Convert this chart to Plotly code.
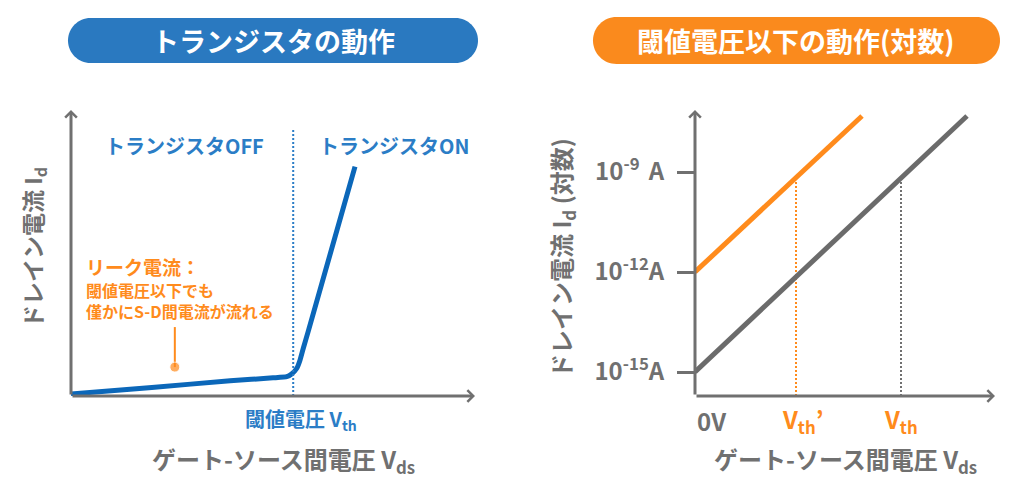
import plotly.graph_objects as go

W, H = 1024, 495
FONT = "Noto Sans CJK JP"

# ---------------- data ----------------
# left panel (linear, arbitrary units)
left_vds = [0.0, 2.0, 3.94, 5.0, 5.34, 5.46, 5.59, 5.67, 5.75, 5.87, 7.03]
left_id = [0.07, 0.30, 0.53, 0.635, 0.675, 0.77, 0.97, 1.26, 1.67, 2.25, 8.02]
vth_left = 5.5
vth_left_top = 9.3
leak_x = 2.57
leak_y = [2.41, 1.01]

# right panel (log scale)
orange_vgs = [0.0, 1.67]
orange_id = [1e-12, 4.8e-8]
gray_vgs = [0.0, 2.72]
gray_id = [1e-15, 4.8e-8]
vth_prime = 1.01
vth = 2.06
id_at_vth = 6.7e-10
ytick_vals = [1e-15, 1e-12, 1e-9]
ytick_text = ["10<sup>-15</sup>A", "10<sup>-12</sup>A", "10<sup>-9 </sup> A"]

# colors
BLUE = "#0b67b9"
BLUE_T = "#2b7dc6"
BLUE_PILL = "#2a79c0"
ORANGE = "#ff8b1c"
ORANGE_PILL = "#fa8a1d"
GRAY = "#707070"
GRAY_LINE = "#6b6b6b"

# ranges
L_X = [0, 10]
L_Y = [0, 10]
R_X = [0, 3.0]
R_Y = [-15.72, -7.14]


def px(x):
    return x / W


def py(y):
    return 1 - y / H


fig = go.Figure()

# left
fig.add_trace(go.Scatter(x=left_vds, y=left_id, mode="lines",
                         line=dict(color=BLUE, width=5, shape="spline", smoothing=0.4),
                         xaxis="x", yaxis="y", cliponaxis=False, hoverinfo="skip"))
fig.add_trace(go.Scatter(x=[vth_left, vth_left], y=[0, vth_left_top], mode="lines",
                         line=dict(color=BLUE_T, width=2, dash="2px,2px"),
                         xaxis="x", yaxis="y", cliponaxis=False, hoverinfo="skip"))
fig.add_trace(go.Scatter(x=[leak_x, leak_x], y=leak_y, mode="lines+markers",
                         line=dict(color=ORANGE, width=2),
                         marker=dict(size=[0, 10], color=ORANGE),
                         xaxis="x", yaxis="y", cliponaxis=False, hoverinfo="skip"))

# right
fig.add_trace(go.Scatter(x=[vth_prime, vth_prime], y=[10 ** R_Y[0], id_at_vth], mode="lines",
                         line=dict(color=ORANGE, width=2, dash="2px,2px"),
                         xaxis="x2", yaxis="y2", cliponaxis=False, hoverinfo="skip"))
fig.add_trace(go.Scatter(x=[vth, vth], y=[10 ** R_Y[0], id_at_vth], mode="lines",
                         line=dict(color=GRAY, width=2, dash="2px,2px"),
                         xaxis="x2", yaxis="y2", cliponaxis=False, hoverinfo="skip"))
fig.add_trace(go.Scatter(x=gray_vgs, y=gray_id, mode="lines",
                         line=dict(color=GRAY_LINE, width=5),
                         xaxis="x2", yaxis="y2", cliponaxis=False, hoverinfo="skip"))
fig.add_trace(go.Scatter(x=orange_vgs, y=orange_id, mode="lines",
                         line=dict(color=ORANGE, width=5),
                         xaxis="x2", yaxis="y2", cliponaxis=False, hoverinfo="skip"))

ann = []


def arrow(xr, yr, x, y, ax, ay):
    ann.append(dict(xref=xr, yref=yr, axref=xr, ayref=yr, x=x, y=y, ax=ax, ay=ay,
                    text="", showarrow=True, arrowhead=4, arrowsize=0.75,
                    arrowwidth=3, arrowcolor=GRAY, standoff=0, startstandoff=0))


arrow("x", "y", L_X[0], L_Y[1], L_X[0], L_Y[0])
arrow("x", "y", L_X[1], L_Y[0], L_X[0], L_Y[0])
arrow("x2", "y2", R_X[0], R_Y[1], R_X[0], R_Y[0])
arrow("x2", "y2", R_X[1], R_Y[0], R_X[0], R_Y[0])


def text(t, x, y, size, color, xanchor="center", angle=0, xref="paper", xshift=0, align="center"):
    ann.append(dict(text=t, x=x, y=y, xref=xref, yref="paper", showarrow=False,
                    xanchor=xanchor, yanchor="middle", textangle=angle, xshift=xshift,
                    align=align,
                    font=dict(family=FONT, size=size, color=color, weight="bold")))


# pills
def pill(x0, x1, y0, y1):
    r = (y1 - y0) / 2
    k = 0.5523 * r
    pts = [
        ("M", [(x0 + r, y0)]),
        ("L", [(x1 - r, y0)]),
        ("C", [(x1 - r + k, y0), (x1, y0 + r - k), (x1, y0 + r)]),
        ("C", [(x1, y0 + r + k), (x1 - r + k, y1), (x1 - r, y1)]),
        ("L", [(x0 + r, y1)]),
        ("C", [(x0 + r - k, y1), (x0, y0 + r + k), (x0, y0 + r)]),
        ("C", [(x0, y0 + r - k), (x0 + r - k, y0), (x0 + r, y0)]),
    ]
    s = ""
    for cmd, ps in pts:
        s += cmd + " ".join(f"{px(a):.5f},{py(b):.5f}" for a, b in ps) + " "
    return s + "Z"


shapes = [
    dict(type="path", xref="paper", yref="paper", path=pill(68, 478, 18, 63),
         fillcolor=BLUE_PILL, line=dict(width=0), layer="below"),
    dict(type="path", xref="paper", yref="paper", path=pill(593, 1000, 17, 64),
         fillcolor=ORANGE_PILL, line=dict(width=0), layer="below"),
]

text("トランジスタの動作", px(273), py(41), 27, "white")
text("閾値電圧以下の動作(対数)", px(795), py(41), 27, "white")

# left texts
text("トランジスタOFF", px(184), py(145), 20, BLUE_T)
text("トランジスタON", px(394), py(145), 20, BLUE_T)
text("リーク電流：", px(84), py(266), 19, ORANGE, xanchor="left")
text("閾値電圧以下でも<br>僅かにS-D間電流が流れる", px(84), py(300), 16, ORANGE,
     xanchor="left", align="left")
text("閾値電圧 V<sub>th</sub>", vth_left, py(419), 20, BLUE_T, xref="x", xshift=8)
text("ゲート-ソース間電圧 V<sub>ds</sub>", px(283), py(460), 24, GRAY)
text("ドレイン電流 I<sub>d</sub>", px(33), py(248), 23, GRAY, angle=-90)

# right texts
text("0V", 0, py(420), 24, GRAY, xanchor="left", xref="x2")
text("V<sub>th</sub>’", vth_prime, py(420), 24, ORANGE, xref="x2", xshift=6)
text("V<sub>th</sub>", vth, py(420), 24, ORANGE, xref="x2")
text("ゲート-ソース間電圧 V<sub>ds</sub>", px(845), py(460), 24, GRAY)
text("ドレイン電流 I<sub>d</sub> (対数)", px(562), py(258), 24, GRAY, angle=-90)

fig.update_layout(
    width=W, height=H, margin=dict(l=0, r=0, t=0, b=0),
    paper_bgcolor="white", plot_bgcolor="white", showlegend=False,
    xaxis=dict(domain=[px(71), px(475)], range=L_X, visible=False),
    yaxis=dict(domain=[py(396), py(110)], range=L_Y, visible=False),
    xaxis2=dict(domain=[px(695), px(995)], range=R_X, visible=False, anchor="y2"),
    yaxis2=dict(domain=[py(396), py(110)], range=R_Y, type="log", anchor="x2",
                showgrid=False, zeroline=False, showline=False,
                tickvals=ytick_vals, ticktext=ytick_text,
                ticks="outside", ticklen=17, tickwidth=3, tickcolor=GRAY,
                ticklabelstandoff=8,
                tickfont=dict(family=FONT, size=24, color=GRAY, weight="bold")),
    annotations=ann, shapes=shapes,
)

fig.write_html("out.html")
